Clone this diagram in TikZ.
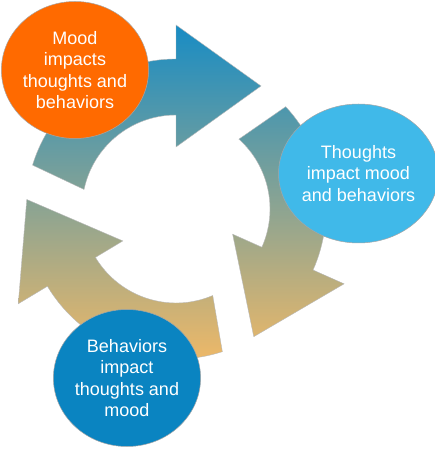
\documentclass[tikz,border=0pt]{standalone}
\usepackage{fontspec}
\setmainfont{Liberation Sans}
\usetikzlibrary{shapes.geometric,calc}
\definecolor{ringtop}{RGB}{24,140,196}
\definecolor{ringbot}{RGB}{246,186,100}
\definecolor{moodc}{RGB}{255,106,0}
\definecolor{thoughtc}{RGB}{64,185,233}
\definecolor{behavc}{RGB}{10,132,193}
\tikzset{
  bubble/.style={ellipse, draw=gray!70, line width=0.5pt, inner sep=0pt,
    minimum width=147pt, minimum height=137pt, text=white, align=center,
    font=\fontsize{18}{21.5}\selectfont},
  ringarrow/.style={draw=gray!55, line width=0.4pt, top color=ringtop, bottom color=ringbot}
}
\begin{document}
\begin{tikzpicture}[x=1pt,y=1pt]
\useasboundingbox (0,0) rectangle (434,450);
\coordinate (C) at (176,241);
% ring of three arrows: args head angle, tail outer angle, tail inner angle
\newcommand{\ringarr}[3]{%
  ($(C)+(#2:150)$) arc[start angle=#2, end angle=#1, radius=150]
  -- ($(C)+(#1:184)$) -- ($(C)+(#1:123)+(#1-90:85)$) -- ($(C)+(#1:62)$)
  -- ($(C)+(#1:94)$) arc[start angle=#1, end angle=#3, radius=94] -- cycle}
\path[ringarrow] \ringarr{90}{163}{168} \ringarr{-24}{43}{48} \ringarr{211}{288}{293};
\node[bubble, fill=moodc] (mood) at (75,380) {Mood\\impacts\\thoughts and\\behaviors};
\node[bubble, fill=thoughtc, minimum width=149pt, minimum height=139pt] (thought) at (358.5,276.5) {Thoughts\\impact mood\\and behaviors};
\node[bubble, fill=behavc] (behav) at (127,72) {Behaviors\\impact\\thoughts and\\mood};
\end{tikzpicture}
\end{document}
